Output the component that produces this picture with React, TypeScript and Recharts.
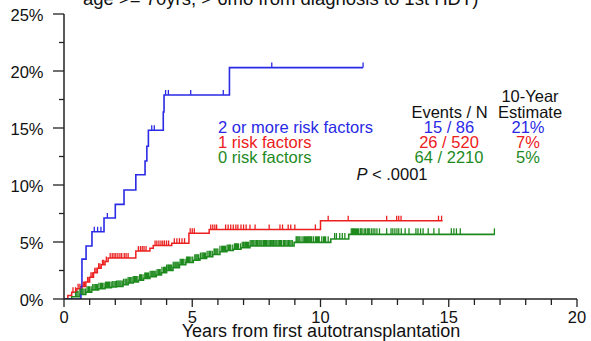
import { ComposedChart, Line, Scatter, XAxis, YAxis } from "recharts";

// cumulative incidence (%) by years from first autotransplantation
const blueTimes = [0, 0.55, 0.66, 0.7, 0.86, 1.09, 1.56, 2.0, 2.34, 2.8, 3.16, 3.23, 3.29, 3.87, 3.9, 6.45, 11.66];
const blueRisk = [0, 0, 1.1, 3.5, 4.65, 5.9, 7.1, 8.3, 9.56, 10.9, 12.1, 13.4, 14.8, 16.4, 17.9, 20.3, 20.3];
const blueCensor = [1.18, 1.31, 1.44, 1.69, 3.42, 3.52, 3.96, 4.07, 4.94, 6.21, 8.1, 11.66];

const redTimes = [0, 0.15, 0.3, 0.5, 0.7, 0.85, 1.0, 1.15, 1.3, 1.45, 1.6, 1.72, 2.8, 3.35, 3.48, 4.2, 4.87, 5.66, 10.0, 14.76];
const redRisk = [0, 0.3, 0.6, 0.9, 1.1, 1.5, 1.9, 2.3, 2.7, 3.0, 3.3, 3.6, 4.2, 4.45, 4.7, 4.9, 5.76, 6.1, 6.87, 6.87];
const redCensor = [
  0.35, 0.45, 0.55, 0.62, 0.75, 0.8, 0.92, 0.97, 1.05, 1.1, 1.2, 1.25, 1.35, 1.4, 1.5, 1.55, 1.65,
  1.8, 1.88, 1.95, 2.02, 2.1, 2.18, 2.25, 2.35, 2.42, 2.5, 2.9, 2.98, 3.05, 3.12, 3.2,
  3.55, 3.62, 3.7, 3.78, 3.85, 3.92, 4.0, 4.08, 4.3, 4.4, 4.5, 4.6, 4.7, 4.92, 5.0, 5.08,
  5.72, 5.8, 5.88, 5.95, 6.3, 6.4, 6.5, 6.6, 6.7, 6.78, 6.9, 7.0, 7.1, 7.25, 7.45, 8.0,
  8.42, 8.52, 8.74, 8.84, 9.0, 9.8, 10.3, 11.08, 12.58, 12.97, 13.05, 13.14, 14.6, 14.72,
];

const greenTimes = [0, 0.3, 0.62, 0.85, 1.08, 1.35, 1.6, 1.85, 2.05, 2.3, 2.5, 2.7, 2.9, 3.1, 3.35, 3.6, 3.8, 4.0, 4.25, 4.5, 4.75, 5.04, 5.3, 5.56, 5.8, 6.08, 6.35, 6.6, 6.9, 7.25, 8.97, 10.4, 11.1, 16.8];
const greenRisk = [0, 0.2, 0.4, 0.6, 0.8, 0.9, 1.0, 1.05, 1.1, 1.25, 1.4, 1.5, 1.65, 1.8, 1.95, 2.1, 2.3, 2.5, 2.75, 3.0, 3.2, 3.4, 3.55, 3.7, 3.9, 4.15, 4.25, 4.36, 4.5, 4.65, 4.97, 5.26, 5.67, 5.67];
const greenCensor = [
  0.45, 0.5, 0.55, 0.62, 0.68, 0.73, 0.78, 0.84, 0.9, 0.95, 1.0, 1.06, 1.12, 1.17, 1.22, 1.26, 1.3, 1.36,
  1.42, 1.46, 1.5, 1.56, 1.62, 1.66, 1.7, 1.74, 1.78, 1.84, 1.9, 1.95, 2.0, 2.05, 2.1, 2.14, 2.18, 2.22,
  2.27, 2.32, 2.38, 2.42, 2.45, 2.5, 2.55, 2.6, 2.65, 2.7, 2.75, 2.78, 2.82, 2.88, 2.95, 2.98, 3.02,
  3.08, 3.15, 3.18, 3.22, 3.26, 3.3, 3.36, 3.42, 3.46, 3.5, 3.54, 3.58, 3.63, 3.68, 3.72, 3.75, 3.82,
  3.88, 3.92, 3.95, 4.0, 4.05, 4.08, 4.12, 4.16, 4.2, 4.26, 4.32, 4.36, 4.4, 4.44, 4.48, 4.53, 4.58,
  4.62, 4.65, 4.72, 4.78, 4.82, 4.85, 4.9, 4.95, 5.02, 5.1, 5.14, 5.18, 5.22, 5.25, 5.32, 5.38, 5.42,
  5.45, 5.48, 5.52, 5.58, 5.65, 5.68, 5.72, 5.78, 5.85, 5.88, 5.92, 5.96, 6.0, 6.08, 6.15, 6.18, 6.22,
  6.26, 6.3, 6.36, 6.42, 6.46, 6.5, 6.58, 6.65, 6.68, 6.72, 6.76, 6.8, 6.88, 6.95, 7.0, 7.05, 7.08,
  7.12, 7.16, 7.2, 7.26, 7.32, 7.36, 7.4, 7.45, 7.5, 7.55, 7.6, 7.64, 7.68, 7.72, 7.78, 7.82, 7.85,
  7.9, 7.95, 8.0, 8.05, 8.08, 8.12, 8.17, 8.22, 8.26, 8.3, 8.35, 8.4, 8.44, 8.48, 8.55, 8.6, 8.65, 8.7,
  8.75, 8.8, 8.85, 8.9, 9.05, 9.08, 9.12, 9.16, 9.2, 9.28, 9.35, 9.38, 9.42, 9.46, 9.5, 9.54, 9.58,
  9.62, 9.65, 9.72, 9.8, 9.84, 9.88, 9.92, 9.95, 10.05, 10.12, 10.16, 10.2, 10.3, 10.55, 10.62, 10.75,
  10.85, 10.95, 11.2, 11.25, 11.28, 11.32, 11.36, 11.4, 11.44, 11.48, 11.55, 11.58, 11.62, 11.7,
  11.75, 11.82, 11.86, 11.9, 11.98, 12.05, 12.12, 12.2, 12.3, 12.58, 12.75, 12.82, 12.9, 12.98,
  13.05, 13.15, 13.3, 13.45, 13.72, 13.8, 13.9, 14.0, 14.2, 14.42, 14.62, 15.1, 15.2, 15.3, 15.45, 16.78,
];

const xTicks = [0, 1, 2, 3, 4, 5, 6, 7, 8, 9, 10, 11, 12, 13, 14, 15, 16, 17, 18, 19, 20];
const yTicks = [0, 2.5, 5, 7.5, 10, 12.5, 15, 17.5, 20, 22.5, 25];

const groups = ["2 or more risk factors", "1 risk factors", "0 risk factors"];
const eventsN = ["15 / 86", "26 / 520", "64 / 2210"];
const estimates = ["21%", "7%", "5%"];

const BLUE = "#2a2ae6";
const RED = "#ec2020";
const GREEN = "#1e8a1e";
const AXIS = "#222";
const FONT = "'Liberation Sans', Arial, Helvetica, sans-serif";

const toPoints = (times: number[], risk: number[]) => times.map((t, i) => ({ t, v: risk[i] }));

// censor marks sit on the step curve at their time
const onCurve = (times: number[], risk: number[], censor: number[]) =>
  censor.map((c) => {
    let v = risk[0];
    for (let i = 0; i < times.length; i++) if (times[i] <= c) v = risk[i];
    return { t: c, v };
  });

const tickMark = (color: string, h: number) => (props: any) => (
  <line x1={props.cx} x2={props.cx} y1={props.cy} y2={props.cy - h} stroke={color} strokeWidth={1.3} />
);

const XTick = (props: any) => {
  const { x, y, payload } = props;
  const major = payload.value % 5 === 0;
  return (
    <g>
      <line x1={x} x2={x} y1={y} y2={y + (major ? 8 : 6)} stroke={AXIS} strokeWidth={1.3} />
      {major && (
        <text x={x} y={y + 24} textAnchor="middle" fontSize={16.5} fontFamily={FONT} fill="#111">
          {payload.value}
        </text>
      )}
    </g>
  );
};

const YTick = (props: any) => {
  const { x, y, payload } = props;
  const major = payload.value % 5 === 0;
  return (
    <g>
      <line x1={x} x2={x - (major ? 11 : 5)} y1={y} y2={y} stroke={AXIS} strokeWidth={1.3} />
      {major && (
        <text x={x - 20.5} y={y + 7} textAnchor="end" fontSize={16.5} fontFamily={FONT} fill="#111">
          {`${payload.value}%`}
        </text>
      )}
    </g>
  );
};

const colors = [BLUE, RED, GREEN];

export default function App() {
  return (
    <div style={{ position: "absolute", left: 0, top: 0, background: "#fff" }}>
      <ComposedChart width={591} height={341} margin={{ top: 14, right: 14, bottom: 0, left: 0 }}>
        <XAxis
          dataKey="t"
          type="number"
          domain={[0, 20]}
          ticks={xTicks}
          interval={0}
          height={42}
          tickSize={0}
          tickMargin={0}
          tickLine={false}
          tick={<XTick />}
          axisLine={{ stroke: AXIS, strokeWidth: 1.5 }}
          allowDataOverflow
        />
        <YAxis
          type="number"
          domain={[0, 25]}
          ticks={yTicks}
          interval={0}
          width={64}
          tickSize={0}
          tickMargin={0}
          tickLine={false}
          tick={<YTick />}
          axisLine={{ stroke: AXIS, strokeWidth: 1.5 }}
          allowDataOverflow
        />
        <Line data={toPoints(greenTimes, greenRisk)} dataKey="v" type="stepAfter" stroke={GREEN} strokeWidth={1.6} dot={false} isAnimationActive={false} />
        <Line data={toPoints(redTimes, redRisk)} dataKey="v" type="stepAfter" stroke={RED} strokeWidth={1.5} dot={false} isAnimationActive={false} />
        <Line data={toPoints(blueTimes, blueRisk)} dataKey="v" type="stepAfter" stroke={BLUE} strokeWidth={1.6} dot={false} isAnimationActive={false} />
        <Scatter data={onCurve(greenTimes, greenRisk, greenCensor)} dataKey="v" shape={tickMark(GREEN, 6)} isAnimationActive={false} />
        <Scatter data={onCurve(redTimes, redRisk, redCensor)} dataKey="v" shape={tickMark(RED, 5)} isAnimationActive={false} />
        <Scatter data={onCurve(blueTimes, blueRisk, blueCensor)} dataKey="v" shape={tickMark(BLUE, 5)} isAnimationActive={false} />

        <text x={83} y={5} fontSize={18.5} fontFamily={FONT} fill="#111">
          age &gt;= 70yrs, &gt; 6mo from diagnosis to 1st HDT)
        </text>
        <text x={321} y={337} textAnchor="middle" fontSize={18} fontFamily={FONT} fill="#111">
          Years from first autotransplantation
        </text>
        <g fontFamily={FONT} fontSize={16.5}>
          <text x={530} y={102} textAnchor="middle" fill="#111">10-Year</text>
          <text x={449.5} y={118} textAnchor="middle" fill="#111">Events / N</text>
          <text x={530} y={118} textAnchor="middle" fill="#111">Estimate</text>
          {groups.map((g, i) => (
            <g key={g} fill={colors[i]}>
              <text x={218} y={133 + i * 15}>{g}</text>
              <text x={449} y={133 + i * 15} textAnchor="middle">{eventsN[i]}</text>
              <text x={528} y={133 + i * 15} textAnchor="middle">{estimates[i]}</text>
            </g>
          ))}
          <text x={392} y={179.5} textAnchor="middle" fill="#111">
            <tspan fontStyle="italic">P</tspan> &lt; .0001
          </text>
        </g>
      </ComposedChart>
    </div>
  );
}
